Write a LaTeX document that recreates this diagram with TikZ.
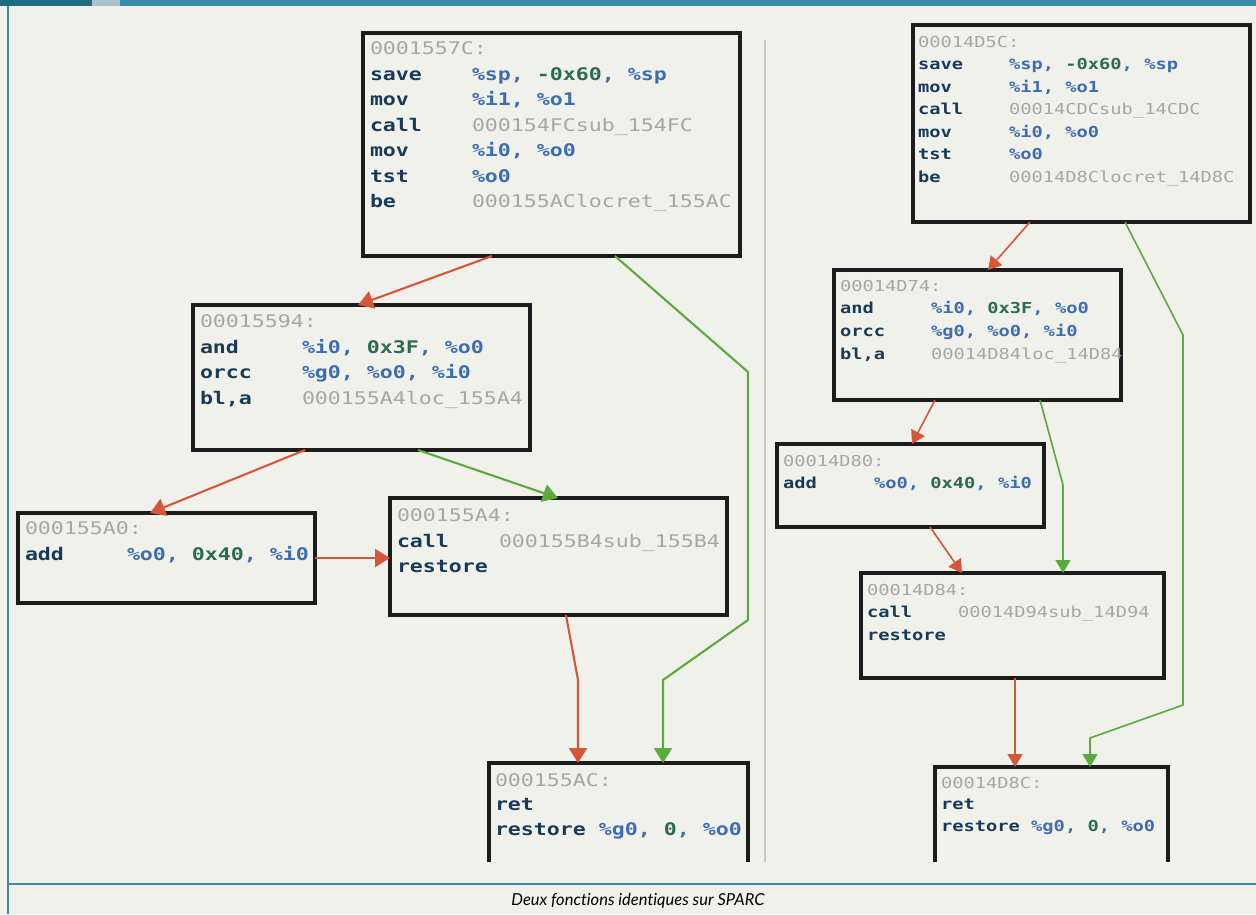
\documentclass[tikz,border=0pt]{standalone}
\usepackage{fontspec}
\usetikzlibrary{arrows.meta,calc}
\newfontfamily\asmfont[FakeStretch=1.24]{DejaVu Sans Mono}
\newfontfamily\capfont[Ligatures=NoCommon]{Lato}
\definecolor{paper}{HTML}{F1F1EC}
\definecolor{teal}{HTML}{3A8DA6}
\definecolor{tealdark}{HTML}{1E6B82}
\definecolor{teallight}{HTML}{A9C3CD}
\definecolor{divider}{HTML}{C8C8C2}
\definecolor{boxcol}{HTML}{1C1C1C}
\definecolor{mncol}{HTML}{173B57}
\definecolor{regcol}{HTML}{3D6DAE}
\definecolor{cstcol}{HTML}{2B6A55}
\definecolor{adcol}{HTML}{A6A6A6}
\definecolor{redc}{HTML}{D4573A}
\definecolor{greenc}{HTML}{5BAA3E}
\newcommand\LF{\fontsize{17.4}{20}\selectfont\asmfont}
\newcommand\RF{\fontsize{15.1}{18}\selectfont\asmfont}
\newcommand\mn[1]{\textcolor{mncol}{\bfseries #1}}
\newcommand\rg[1]{\textcolor{regcol}{\bfseries #1}}
\newcommand\cn[1]{\textcolor{cstcol}{\bfseries #1}}
\newcommand\ad[1]{\textcolor{adcol}{#1}}
\newcommand\ML[1]{\makebox[102pt][l]{\mn{#1}}}
\newcommand\MR[1]{\makebox[91pt][l]{\mn{#1}}}
\tikzset{
  box/.style={draw=boxcol, line width=3.2pt, inner sep=0pt, outer sep=0pt, anchor=north west},
  openbox/.style={draw=none, inner sep=0pt, outer sep=0pt, anchor=north west},
  boxline/.style={draw=boxcol, line width=3.2pt, line join=miter},
  txtL/.style={anchor=mid west, inner sep=0pt, outer sep=0pt, font=\LF},
  txtR/.style={anchor=mid west, inner sep=0pt, outer sep=0pt, font=\RF},
  redarr/.style={draw=redc, line width=2.1pt, line join=round, -{Triangle[width=18pt,length=15pt]}},
  greenarr/.style={draw=greenc, line width=2.1pt, line join=round, -{Triangle[width=18pt,length=15pt]}},
  redarrR/.style={draw=redc, line width=1.6pt, line join=round, -{Triangle[width=15pt,length=13pt]}},
  greenarrR/.style={draw=greenc, line width=1.6pt, line join=round, -{Triangle[width=15pt,length=13pt]}},
}
\begin{document}
\begin{tikzpicture}[x=1pt,y=-1pt]
\useasboundingbox (0,0) rectangle (1256,914);
\fill[paper] (0,0) rectangle (1256,914);
% frame
\fill[teal] (0,0) rectangle (1256,6);
\fill[tealdark] (0,0) rectangle (92,6);
\fill[teallight] (92,0) rectangle (120,6);
\draw[teal, line width=1.6pt] (8,6) -- (8,914);
\draw[teal, line width=1.6pt] (8,884) -- (1256,884);
\draw[divider, line width=2.8pt] (765,40) -- (765,862);
\node[font=\capfont\itshape\fontsize{16.5}{18}\selectfont, anchor=mid, inner sep=0pt] (cap) at (638,903) {Deux fonctions identiques sur SPARC};

% ---------- left graph ----------
\node[box, minimum width=377pt, minimum height=223pt] (b1) at (363,33) {};
\node[txtL] (b1h) at (370,52) {\ad{0001557C:}};
\node[txtL] (b1a) at (370,78) {\ML{save}\rg{\%sp,} \cn{-0x60}\rg{,} \rg{\%sp}};
\node[txtL] (b1b) at (370,103) {\ML{mov}\rg{\%i1, \%o1}};
\node[txtL] (b1c) at (370,129) {\ML{call}\ad{000154FCsub\_154FC}};
\node[txtL] (b1d) at (370,154) {\ML{mov}\rg{\%i0, \%o0}};
\node[txtL] (b1e) at (370,180) {\ML{tst}\rg{\%o0}};
\node[txtL] (b1f) at (370,205) {\ML{be}\ad{000155AClocret\_155AC}};

\node[box, minimum width=337pt, minimum height=145pt] (b2) at (193,305) {};
\node[txtL] (b2h) at (200,325) {\ad{00015594:}};
\node[txtL] (b2a) at (200,351) {\ML{and}\rg{\%i0,} \cn{0x3F}\rg{,} \rg{\%o0}};
\node[txtL] (b2b) at (200,376) {\ML{orcc}\rg{\%g0, \%o0, \%i0}};
\node[txtL] (b2c) at (200,402) {\ML{bl,a}\ad{000155A4loc\_155A4}};

\node[box, minimum width=297pt, minimum height=90pt] (b3) at (18,513) {};
\node[txtL] (b3h) at (25,532) {\ad{000155A0:}};
\node[txtL] (b3a) at (25,558) {\ML{add}\rg{\%o0,} \cn{0x40}\rg{,} \rg{\%i0}};

\node[box, minimum width=337pt, minimum height=117pt] (b4) at (390,498) {};
\node[txtL] (b4h) at (397,519) {\ad{000155A4:}};
\node[txtL] (b4a) at (397,545) {\ML{call}\ad{000155B4sub\_155B4}};
\node[txtL] (b4b) at (397,570) {\mn{restore}};

\node[openbox, minimum width=259pt, minimum height=99pt] (b5) at (489,763) {};
\draw[boxline] (b5.south west) -- (b5.north west) -- (b5.north east) -- (b5.south east);
\node[txtL] (b5h) at (495,784) {\ad{000155AC:}};
\node[txtL] (b5a) at (495,808) {\mn{ret}};
\node[txtL] (b5b) at (495,833) {\mn{restore} \rg{\%g0,} \cn{0}\rg{,} \rg{\%o0}};

% left connectors
\coordinate (g1a) at (748,372);
\coordinate (g1b) at (748,620);
\coordinate (g1c) at (663,680);
\coordinate (r4a) at (578,680);
\draw[redarr] ($(b1.south west)+(129,0)$) -- ($(b2.north west)+(165,0)$);
\draw[greenarr] ($(b1.south west)+(252,0)$) -- (g1a) -- (g1b) -- (g1c) -- ($(b5.north west)+(174,0)$);
\draw[redarr] ($(b2.south west)+(112,0)$) -- ($(b3.north west)+(132,0)$);
\draw[greenarr] ($(b2.south west)+(225,0)$) -- ($(b4.north west)+(168,0)$);
\draw[redarr] (b3.east) -- (b3.east -| b4.west);
\draw[redarr] ($(b4.south west)+(176,0)$) -- (r4a) -- ($(b5.north west)+(89,0)$);

% ---------- right graph ----------
\node[box, minimum width=337pt, minimum height=197pt] (r1) at (913,25) {};
\node[txtR] (r1h) at (918,45) {\ad{00014D5C:}};
\node[txtR] (r1a) at (918,67.5) {\MR{save}\rg{\%sp,} \cn{-0x60}\rg{,} \rg{\%sp}};
\node[txtR] (r1b) at (918,90) {\MR{mov}\rg{\%i1, \%o1}};
\node[txtR] (r1c) at (918,112.5) {\MR{call}\ad{00014CDCsub\_14CDC}};
\node[txtR] (r1d) at (918,135) {\MR{mov}\rg{\%i0, \%o0}};
\node[txtR] (r1e) at (918,157.5) {\MR{tst}\rg{\%o0}};
\node[txtR] (r1f) at (918,180) {\MR{be}\ad{00014D8Clocret\_14D8C}};

\node[box, minimum width=287pt, minimum height=130pt] (r2) at (834,270) {};
\node[txtR] (r2h) at (840,289) {\ad{00014D74:}};
\node[txtR] (r2a) at (840,311) {\MR{and}\rg{\%i0,} \cn{0x3F}\rg{,} \rg{\%o0}};
\node[txtR] (r2b) at (840,334) {\MR{orcc}\rg{\%g0, \%o0, \%i0}};
\node[txtR] (r2c) at (840,357) {\MR{bl,a}\ad{00014D84loc\_14D84}};

\node[box, minimum width=267pt, minimum height=83pt] (r3) at (777,444) {};
\node[txtR] (r3h) at (783,464) {\ad{00014D80:}};
\node[txtR] (r3a) at (783,486) {\MR{add}\rg{\%o0,} \cn{0x40}\rg{,} \rg{\%i0}};

\node[box, minimum width=303pt, minimum height=105pt] (r4) at (861,573) {};
\node[txtR] (r4h) at (867,593) {\ad{00014D84:}};
\node[txtR] (r4a) at (867,615) {\MR{call}\ad{00014D94sub\_14D94}};
\node[txtR] (r4b) at (867,638) {\mn{restore}};

\node[openbox, minimum width=233pt, minimum height=95pt] (r5) at (935,767) {};
\draw[boxline] (r5.south west) -- (r5.north west) -- (r5.north east) -- (r5.south east);
\node[txtR] (r5h) at (941,786) {\ad{00014D8C:}};
\node[txtR] (r5a) at (941,807) {\mn{ret}};
\node[txtR] (r5b) at (941,829) {\mn{restore} \rg{\%g0,} \cn{0}\rg{,} \rg{\%o0}};

% right connectors
\coordinate (g2a) at (1183,335);
\coordinate (g2b) at (1183,705);
\coordinate (g2c) at (1090,738);
\coordinate (g3a) at (1063,485);
\draw[redarrR] ($(r1.south west)+(117,0)$) -- ($(r2.north west)+(154,0)$);
\draw[greenarrR] ($(r1.south west)+(212,0)$) -- (g2a) -- (g2b) -- (g2c) -- ($(r5.north west)+(155,0)$);
\draw[redarrR] ($(r2.south west)+(101,0)$) -- ($(r3.north west)+(135,0)$);
\draw[greenarrR] ($(r2.south west)+(206,0)$) -- (g3a) -- ($(r4.north west)+(202,0)$);
\draw[redarrR] ($(r3.south west)+(153,0)$) -- ($(r4.north west)+(101,0)$);
\draw[redarrR] ($(r4.south west)+(154,0)$) -- ($(r5.north west)+(80,0)$);
\end{tikzpicture}
\end{document}
